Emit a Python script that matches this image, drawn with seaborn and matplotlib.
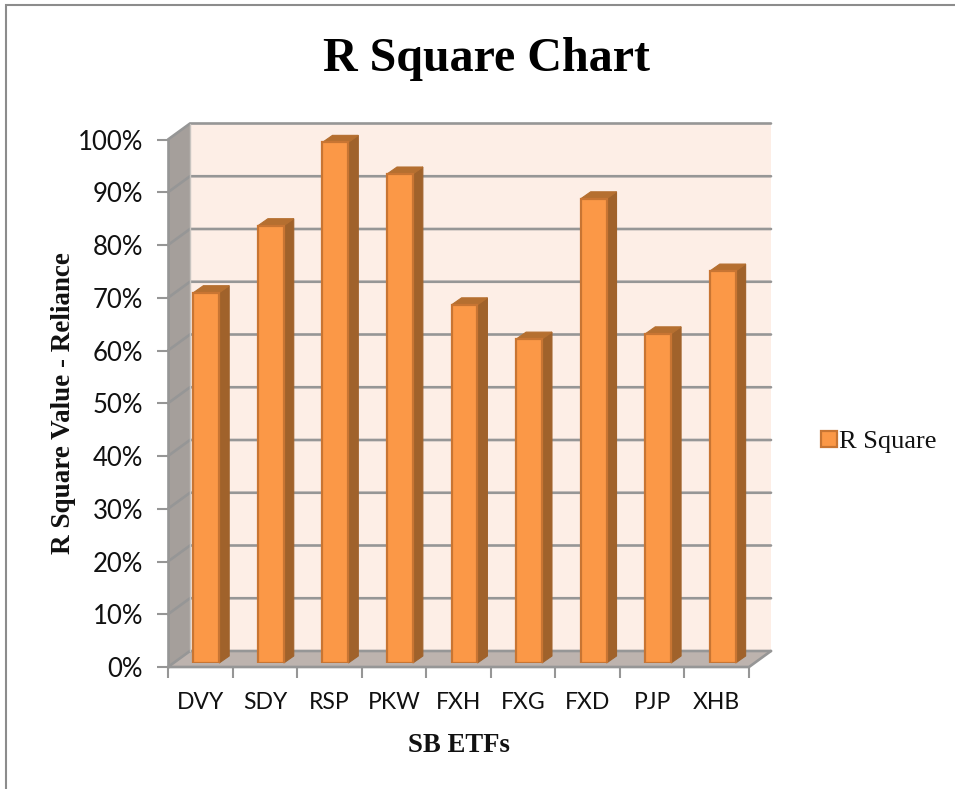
import numpy as np
import pandas as pd
import matplotlib
matplotlib.use('Agg')
import matplotlib.pyplot as plt
from matplotlib.patches import Polygon, Patch
from matplotlib.ticker import PercentFormatter
import seaborn as sns

etfs = ['DVY', 'SDY', 'RSP', 'PKW', 'FXH', 'FXG', 'FXD', 'PJP', 'XHB']
r_square = [70.2, 82.9, 98.7, 92.7, 67.9, 61.4, 88.0, 62.4, 74.3]
y_ticks = [0, 10, 20, 30, 40, 50, 60, 70, 80, 90, 100]

W, H = 955, 789

sns.set_theme(style='white')
plt.rcParams['font.family'] = ['Liberation Serif']

fig = plt.figure(figsize=(W / 100, H / 100), dpi=100)
fig.patch.set_facecolor('white')


def px_axes(left, top, right, bottom):
    return fig.add_axes([left / W, 1 - bottom / H, (right - left) / W, (bottom - top) / H])


# front plane of the 3d box
ax = px_axes(168, 139.5, 749, 667)
ax.patch.set_alpha(0)
xlim = (-0.5, 8.5)
ax.set_xlim(xlim)
ax.set_ylim(0, 100)
sns.despine(ax=ax, left=True, bottom=True)

px_x = 9 / 581
px_y = 100 / 527.5
dx, dy = 22 * px_x, 16 * px_y
x0, x1 = xlim
line_c = '#969696'

# walls
ax.add_patch(Polygon([(x0 + dx, dy), (x1 + dx, dy), (x1 + dx, 100 + dy), (x0 + dx, 100 + dy)],
                     fc='#fdeee6', ec='none', clip_on=False, zorder=1))
ax.add_patch(Polygon([(x0, 0), (x0 + dx, dy), (x0 + dx, 100 + dy), (x0, 100)],
                     fc='#a59f9b', ec='none', clip_on=False, zorder=1))
ax.add_patch(Polygon([(x0, 0), (x1, 0), (x1 + dx, dy), (x0 + dx, dy)],
                     fc='#bdb3ae', ec='none', clip_on=False, zorder=1))

# gridlines run along the side wall then the back wall
for t in y_ticks:
    ax.plot([x0, x0 + dx, x1 + dx], [t, t + dy, t + dy], color=line_c, lw=1.9,
            clip_on=False, zorder=2, solid_joinstyle='miter')
ax.plot([x0, x0], [0, 100], color=line_c, lw=1.9, clip_on=False, zorder=2)
ax.plot([x0, x1, x1 + dx], [0, 0, dy], color=line_c, lw=1.9, clip_on=False, zorder=2)
ax.plot([x0 + dx, x0 + dx], [dy, 100 + dy], color='#c8c4c0', lw=1, clip_on=False, zorder=2)

ax.set_yticks(y_ticks)
ax.yaxis.set_major_formatter(PercentFormatter(100))
ax.set_xticks(np.arange(x0, x1 + 1))
ax.set_xticklabels([])
ax.set_xticks(range(len(etfs)), labels=etfs, minor=True)
ax.tick_params(axis='x', which='major', length=8, width=1.5, color=line_c, bottom=True)
ax.tick_params(axis='x', which='minor', length=0, pad=18, labelsize=16.5, labelcolor='#111111',
               labelfontfamily='Lato')
ax.tick_params(axis='y', length=8, width=1.5, color=line_c, left=True, pad=10, labelsize=18.5,
               labelcolor='#111111', labelfontfamily='Lato')
for side in ['top', 'right']:
    ax.spines[side].set_visible(False)

ax.set_xlabel('SB ETFs', fontsize=19.3, fontweight='bold', color='#111111', va='center')
ax.xaxis.set_label_coords((459 - 168) / 581, -(745 - 667) / 527.5)
ax.set_ylabel('R Square Value - Reliance', fontsize=19.5, fontweight='bold', color='#111111', va='center')
ax.yaxis.set_label_coords((64 - 168) / 581, (667 - 403) / 527.5)

# bars sit a little way into the box
bar_ax = px_axes(174, 135.5, 755, 663)
bar_ax.patch.set_alpha(0)
df = pd.DataFrame({'etf': etfs, 'r_square': r_square})
sns.barplot(data=df, x='etf', y='r_square', ax=bar_ax, color='#fb9847', saturation=1, width=0.4,
            edgecolor='#c87533', linewidth=1.6, zorder=4)
bar_ax.set_xlim(xlim)
bar_ax.set_ylim(0, 100)
bar_ax.axis('off')

bx, by = 10 * px_x, 7 * px_y
for bar in bar_ax.patches:
    l, w, h = bar.get_x(), bar.get_width(), bar.get_height()
    r = l + w
    bar_ax.add_patch(Polygon([(r, 0), (r + bx, by), (r + bx, h + by), (r, h)],
                             fc='#a0622b', ec='#a0622b', lw=0.8, clip_on=False, zorder=3))
    bar_ax.add_patch(Polygon([(l, h), (r, h), (r + bx, h + by), (l + bx, h + by)],
                             fc='#b56f30', ec='#b56f30', lw=0.8, clip_on=False, zorder=3))

fig.text(486 / W, 1 - 59 / H, 'R Square Chart', ha='center', va='center', fontsize=34.6,
         fontweight='bold', color='black')

handles = [Patch(fc='#fb9847', ec='#c87533', lw=1.6, label='R Square')]
fig.legend(handles=handles, loc='center left', bbox_to_anchor=(821 / W, 1 - 442 / H), frameon=False,
           fontsize=19, handlelength=0.6, handleheight=0.6, handletextpad=0.1, borderpad=0,
           borderaxespad=0, labelcolor='#111111')

# chart area border, no line on the right or bottom
fig.add_artist(plt.Line2D([6 / W, 6 / W, 1], [0, 1 - 5 / H, 1 - 5 / H], color='#8c8c8c', lw=1.5,
                          solid_joinstyle='miter'))

fig.savefig('out.png', dpi=100)
